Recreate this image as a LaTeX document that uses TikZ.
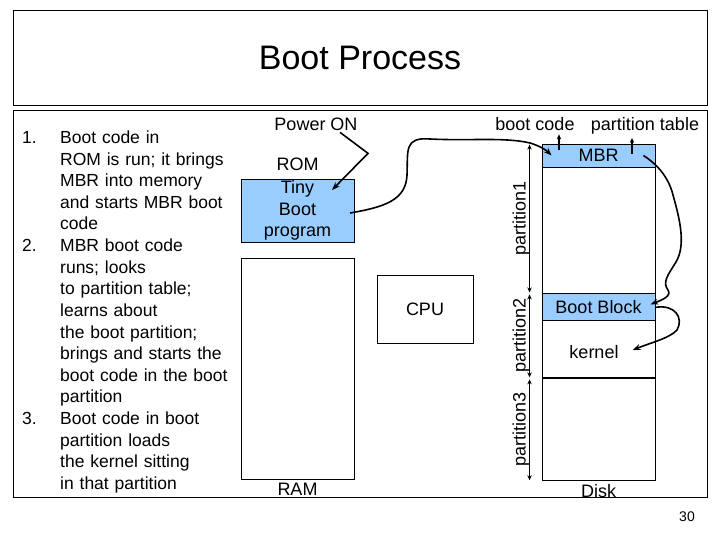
\documentclass[tikz,border=0pt]{standalone}
\usepackage{fontspec}
\setmainfont{Liberation Sans}
\usetikzlibrary{arrows.meta, positioning, calc}
\definecolor{romblue}{RGB}{153,204,255}

\begin{document}
\begin{tikzpicture}[x=1pt, y=-1pt,
    frame/.style={draw=black, line width=0.9pt},
    mem/.style={rectangle, draw=black, line width=0.9pt, inner sep=0pt},
    band/.style={mem, fill=romblue},
    lbl/.style={inner sep=0pt, font=\fontsize{18}{21.6}\selectfont},
    steps/.style={lbl, anchor=base west, text width=220pt, align=left, font=\fontsize{17.5}{21.625}\selectfont},
    part/.style={lbl, rotate=90, anchor=base},
    flow/.style={-{Stealth[length=8pt, width=6pt]}, line width=1.6pt},
    tick/.style={-{Stealth[length=5pt, width=4.5pt]}, line width=1.2pt},
    span/.style={{Stealth[length=5pt, width=4.5pt]}-{Stealth[length=5pt, width=4.5pt]}, line width=1.3pt, shorten <=1pt, shorten >=1pt},
    font=\fontsize{18}{21.6}\selectfont]
\useasboundingbox (0,0) rectangle (720,540);
\draw[frame] (13,10) rectangle (707,105);
\draw[frame] (13,110) rectangle (707,497);
\node[font=\fontsize{34}{40}\selectfont] (title) at (360,58) {Boot Process};
% steps on the left
\node[steps, anchor=base west] (num1) at (22,143.5) {1.};
\node[steps] (item1) at (60,143.5) {Boot code in\\ROM is run; it brings\\MBR into memory\\and starts MBR boot\\code};
\node[steps, anchor=base west] (num2) at (22,251.6) {2.};
\node[steps] (item2) at (60,251.6) {MBR boot code\\runs; looks\\to partition table;\\learns about\\the boot partition;\\brings and starts the\\boot code in the boot\\partition};
\node[steps, anchor=base west] (num3) at (22,424.6) {3.};
\node[steps] (item3) at (60,424.6) {Boot code in boot\\partition loads\\the kernel sitting\\in that partition};
% memory and cpu
\node[lbl, anchor=base] (power) at (316,131) {Power ON};
\node[band, minimum width=113pt, minimum height=63pt, align=center] (rom) at (297.5,210.5) {Tiny\\Boot\\program};
\node[lbl, above=8pt of rom] (romlbl) {ROM};
\node[mem, minimum width=113pt, minimum height=221pt, below=16pt of rom] (ram) {};
\node[lbl, below=3pt of ram] (ramlbl) {RAM};
\node[mem, minimum width=96pt, minimum height=68pt] (cpu) at (425,309) {CPU};
% disk
\node[mem, minimum width=113pt, minimum height=149pt] (part1) at (598.5,218.5) {};
\node[mem, minimum width=113pt, minimum height=84pt, below=0pt of part1] (part2) {};
\node[mem, minimum width=113pt, minimum height=102pt, below=0pt of part2] (part3) {};
\node[band, minimum width=113pt, minimum height=23pt, anchor=north] (mbr) at (part1.north) {MBR};
\node[band, minimum width=113pt, minimum height=27pt, anchor=north] (bootblk) at (part2.north) {Boot Block};
\node[lbl, anchor=base] (kernel) at (594,358) {kernel};
\node[lbl, below=3pt of part3] (disklbl) {Disk};
\node[lbl, anchor=base] (bootcode) at (535,131) {boot code};
\node[lbl, anchor=base] (ptable) at (645,131) {partition table};
\draw[tick] ($(bootcode.south)+(24,19)$) -- ($(bootcode.south)+(24,3)$);
\draw[tick] ($(ptable.south)+(-13,19)$) -- ($(ptable.south)+(-13,3)$);
% partition spans
\draw[span] ([xshift=-12pt]part1.north west) -- ([xshift=-12pt]part1.south west);
\draw[span] ([xshift=-12pt]part2.north west) -- ([xshift=-12pt]part2.south west);
\draw[span] ([xshift=-12pt]part3.north west) -- ([xshift=-12pt]part3.south west);
\node[part] (p1lbl) at ($(part1.west)+(-16,0)$) {partition1};
\node[part] (p2lbl) at ($(part2.west)+(-16,0)$) {partition2};
\node[part] (p3lbl) at ($(part3.west)+(-16,0)$) {partition3};
% boot flow
\draw[flow] ($(power.south)+(24,1)$) -- ($(power.south)+(52,22)$) -- ($(rom.center)+(34.5,-20.5)$);
\draw[flow] ($(rom.center)+(52.5,2.5)$) .. controls (385,207) and (406,200) .. (407,175)
    .. controls (408,150) and (404,137) .. (430,139)
    .. controls (470,141) and (505,137) .. (530,143)
    .. controls (540,146) and (546,150) .. ($(mbr.west)+(10,0)$);
\draw[flow] ($(mbr.east)+(-12,0)$) .. controls (655,163) and (668,175) .. (673,195)
    .. controls (680,220) and (686,245) .. (676,262)
    .. controls (668,275) and (662,282) .. (668,290)
    .. controls (672,296) and (662,300) .. ($(bootblk.east)+(-5,-3)$);
\draw[flow] (bootblk.east) .. controls (675,304) and (684,318) .. (677,330)
    .. controls (670,338) and (650,343) .. ($(kernel.east)+(14,-1.5)$);
\node[font=\fontsize{14}{16}\selectfont, anchor=base] (pagenum) at (687,521) {30};
\end{tikzpicture}
\end{document}
